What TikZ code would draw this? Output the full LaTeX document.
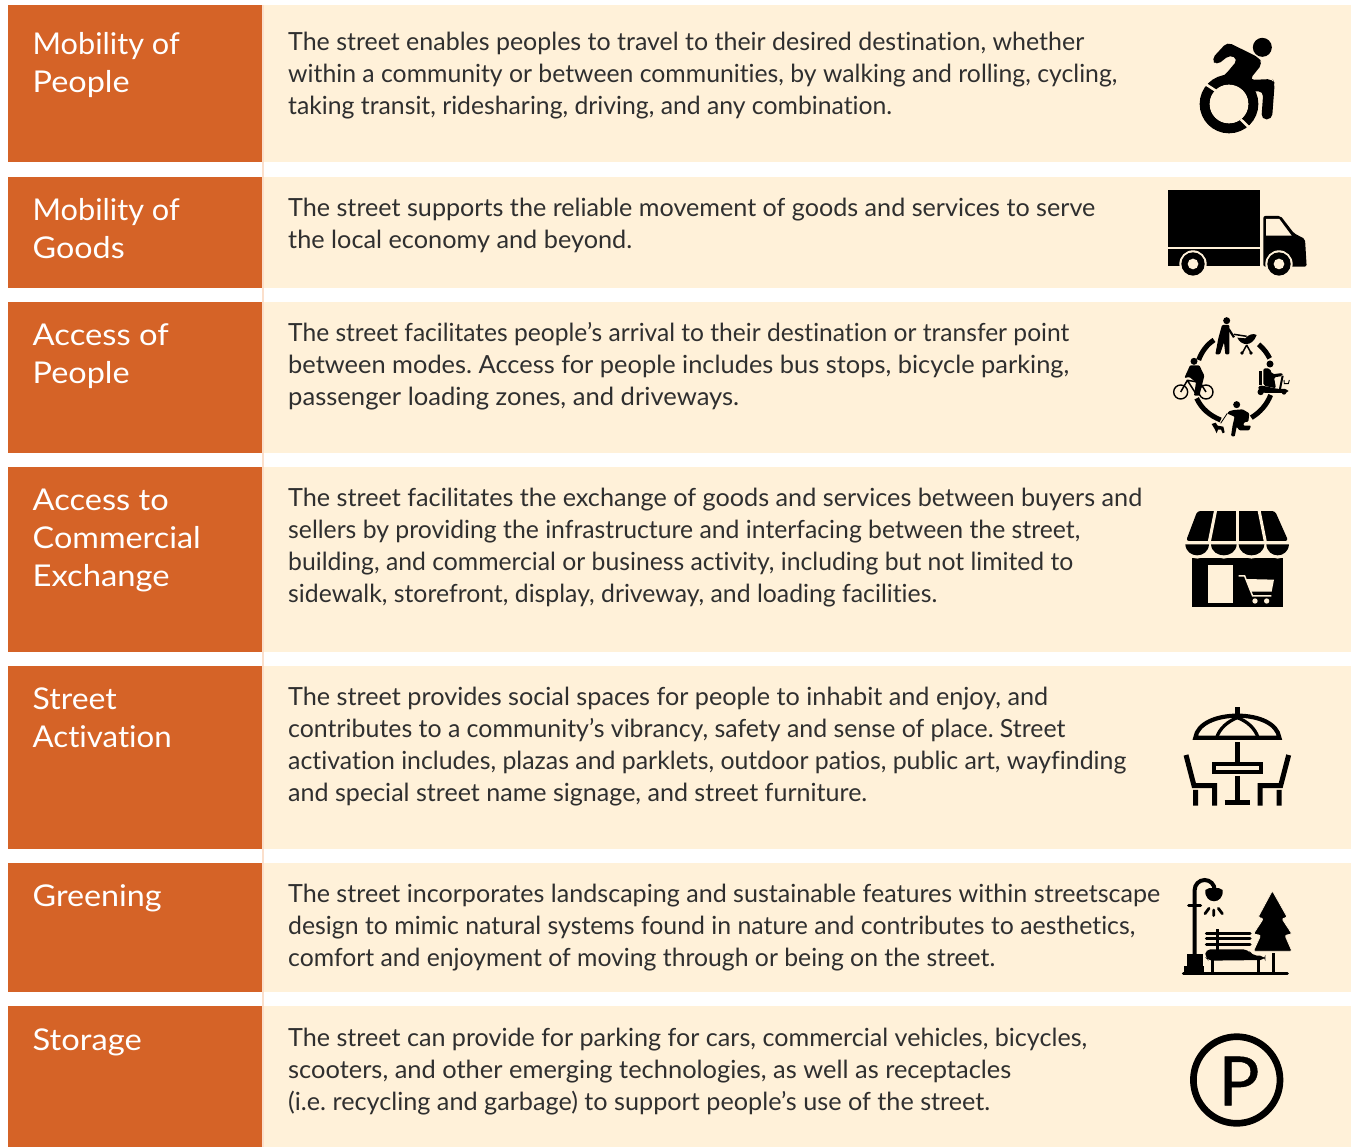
\documentclass[tikz,border=0pt]{standalone}
\usepackage{fontspec}
\usepackage{graphicx}
\setmainfont{Lato}[Ligatures=NoCommon]
\newfontfamily\pfont{Lato}[FakeBold=0.6]
\definecolor{orangebar}{HTML}{D56327}
\definecolor{creambg}{HTML}{FFF1D9}
\definecolor{paleedge}{HTML}{FBDFCB}
\definecolor{bodyink}{HTML}{2F2F2F}
\tikzset{
  headbox/.style={fill=orangebar,draw=none},
  bodybox/.style={fill=creambg,draw=none},
  edgebox/.style={fill=paleedge,draw=none},
  headtext/.style={font=\fontsize{30}{38}\selectfont\frenchspacing,text=white,align=left,inner sep=0pt,anchor=north west},
  bodytext/.style={font=\fontsize{25}{32}\selectfont\frenchspacing,text=bodyink,align=left,inner sep=0pt,anchor=north west},
  ink/.style={draw=black,line cap=butt},
  gapline/.style={draw=creambg},
}
\newcommand{\hs}{\rule{0pt}{24pt}}
\newcommand{\fitl}[2]{\resizebox{#1pt}{\height}{#2}}
\begin{document}
\begin{tikzpicture}[x=1pt,y=-1pt]
\useasboundingbox (0,0) rectangle (1351,1147);
\fill[white] (0,0) rectangle (1351,1147);
\path[edgebox] (262,5) rectangle (264,1147);
\foreach \a/\b in {5/162,177/288,302/453,467/652,666/849,863/992,1006/1147}{
  \path[headbox] (8,\a) rectangle (262,\b);
  \path[bodybox] (264,\a) rectangle (1351,\b);
}
% titles
\node[headtext] (t1) at (32.5,30) {\hs\fitl{147}{Mobility of}\\\fitl{97}{People}};
\node[headtext] (t2) at (32.5,196) {\hs\fitl{147}{Mobility of}\\\fitl{92}{Goods}};
\node[headtext] (t3) at (32.5,321) {\hs\fitl{136}{Access of}\\\fitl{97}{People}};
\node[headtext] (t4) at (32.5,486) {\hs\fitl{136}{Access to}\\\fitl{168}{Commercial}\\\fitl{137}{Exchange}};
\node[headtext] (t5) at (32.5,685) {\hs\fitl{84}{Street}\\\fitl{139}{Activation}};
\node[headtext] (t6) at (32.5,882) {\hs\fitl{129}{Greening}};
\node[headtext] (t7) at (32.5,1026) {\hs\fitl{109}{Storage}};
% bodies
\node[bodytext] (b1) at (288,26) {\hs\fitl{796}{The street enables peoples to travel to their desired destination, whether}\\\fitl{829}{within a community or between communities, by walking and rolling, cycling,}\\\fitl{604}{taking transit, ridesharing, driving, and any combination.}};
\node[bodytext] (b2) at (288,192) {\hs\fitl{807}{The street supports the reliable movement of goods and services to serve}\\\fitl{344}{the local economy and beyond.}};
\node[bodytext] (b3) at (288,317) {\hs\fitl{781}{The street facilitates people’s arrival to their destination or transfer point}\\\fitl{781}{between modes. Access for people includes bus stops, bicycle parking,}\\\fitl{451}{passenger loading zones, and driveways.}};
\node[bodytext] (b4) at (288,482) {\hs\fitl{854}{The street facilitates the exchange of goods and services between buyers and}\\\fitl{792}{sellers by providing the infrastructure and interfacing between the street,}\\\fitl{785}{building, and commercial or business activity, including but not limited to}\\\fitl{649}{sidewalk, storefront, display, driveway, and loading facilities.}};
\node[bodytext] (b5) at (288,681) {\hs\fitl{760}{The street provides social spaces for people to inhabit and enjoy, and}\\\fitl{777}{contributes to a community’s vibrancy, safety and sense of place. Street}\\\fitl{838}{activation includes, plazas and parklets, outdoor patios, public art, wayfinding}\\\fitl{579}{and special street name signage, and street furniture.}};
\node[bodytext] (b6) at (288,878) {\hs\fitl{872}{The street incorporates landscaping and sustainable features within streetscape}\\\fitl{847}{design to mimic natural systems found in nature and contributes to aesthetics,}\\\fitl{707}{comfort and enjoyment of moving through or being on the street.}};
\node[bodytext] (b7) at (288,1022) {\hs\fitl{799}{The street can provide for parking for cars, commercial vehicles, bicycles,}\\\fitl{723}{scooters, and other emerging technologies, as well as receptacles}\\\fitl{702}{(i.e. recycling and garbage) to support people’s use of the street.}};
% wheelchair
\begin{scope}[shift={(1150,20)},x=0.3333pt,y=-0.3333pt]
  \fill (337,82) circle[radius=28.5];
  \draw[ink,line width=10pt] (237,252) circle[radius=73];
  \fill[rounded corners=5pt] (184,118) -- (232,66) -- (325,112) -- (338,130) -- (298,180) -- (368,177) -- (374,190) -- (366,298) -- (334,298) -- (340,214) -- (290,214) -- (200,180) -- (225,165) -- (264,118) -- (240,104) -- (200,136) -- cycle;
  \fill[creambg] (237,252) circle[radius=58];
  \draw[gapline,line width=2.6pt] (163,190) -- (197,212);
  \draw[gapline,line width=2.6pt] (272,298) -- (300,325);
\end{scope}
% truck
\begin{scope}[shift={(1150,20)},x=0.3333pt,y=-0.3333pt]
  \fill (54,510) rectangle (331,682);
  \fill (54,686) rectangle (331,738);
  \fill[rounded corners=2pt] (340,588) -- (392,588) -- (432,640) -- (465,657) -- (470,740) -- (340,740) -- cycle;
  \fill[creambg] (348,597) -- (388,597) -- (425,647) -- (348,647) -- cycle;
  \foreach \cx in {129,387}{
    \fill[creambg] (\cx,732) circle[radius=41];
    \fill (\cx,732) circle[radius=35];
    \fill[creambg] (\cx,732) circle[radius=16];
  }
\end{scope}
% access ring
\begin{scope}[shift={(1150,305)},x=0.3333pt,y=-0.3333pt]
  \draw[ink,line width=5pt] (192,105) .. controls (172,118) and (156,138) .. (146,165);
  \draw[ink,line width=5pt] (326,118) .. controls (342,132) and (352,146) .. (359,160);
  \draw[ink,line width=5pt] (362,270) .. controls (350,300) and (330,322) .. (304,338);
  \draw[ink,line width=5pt] (140,280) .. controls (155,312) and (180,332) .. (212,345);
  % stroller person
  \fill (230,47) circle[radius=10.5];
  \fill[rounded corners=1pt] (216,60) -- (238,60) -- (238,148) -- (226,148) -- (222,112) -- (210,148) -- (196,148) -- (205,100) -- cycle;
  \draw[ink,line width=2.2pt] (236,72) -- (252,97);
  \fill (262,98) .. controls (272,122) and (306,128) .. (320,90) .. controls (310,84) and (296,88) .. (286,100) -- cycle;
  \draw[ink,line width=1.5pt] (252,88) -- (290,94);
  \draw[ink,line width=1.5pt] (290,120) -- (278,142) (290,120) -- (302,142);
  \fill (276,144) circle[radius=5.5] (303,144) circle[radius=5.5];
  % cyclist
  \fill (132,169) circle[radius=10.5];
  \fill[rounded corners=1pt] (120,181) -- (148,181) -- (163,212) -- (148,272) -- (132,272) -- (138,232) -- (118,216) -- (103,219) -- cycle;
  \draw[ink,line width=1.4pt] (92,261) circle[radius=21] (168,261) circle[radius=21];
  \draw[ink,line width=1.5pt] (92,261) -- (112,226) -- (150,232) -- (168,261) (112,226) -- (135,262) -- (150,232);
  % scooter
  \fill (360,177) circle[radius=10.5];
  \fill[rounded corners=2pt] (340,190) -- (360,190) -- (366,208) -- (398,204) -- (398,213) -- (372,217) -- (378,250) -- (340,242) -- cycle;
  \fill (328,198) rectangle (336,240);
  \fill[rounded corners=3pt] (326,240) -- (385,252) -- (414,252) -- (414,264) -- (340,264) -- (324,256) -- cycle;
  \draw[ink,line width=2pt] (398,212) -- (390,252);
  \draw[ink,line width=.9pt] (402,225) -- (403,236) -- (415,236) -- (418,225);
  \fill (332,261) circle[radius=9.5] (402,262) circle[radius=7];
  % runner
  \fill (260,299) circle[radius=10.5];
  \fill[rounded corners=1pt] (252,315) -- (278,313) -- (298,325) -- (295,350) -- (282,352) -- (280,362) -- (303,362) -- (298,376) -- (268,376) -- (260,365) -- (254,395) -- (243,393) -- (248,360) -- (254,335) -- (232,326) -- (236,319) -- cycle;
  \draw[ink,line width=.8pt] (232,325) -- (212,355);
  \fill (185,357) -- (197,353) -- (203,362) -- (220,365) -- (224,382) -- (218,385) -- (213,374) -- (204,374) -- (200,385) -- (194,372) -- cycle;
\end{scope}
% store
\begin{scope}[shift={(1160,495)},x=0.3333pt,y=-0.3333pt]
  \fill[rounded corners=3pt] (112,48) -- (345,48) -- (385,138) -- (78,138) -- cycle;
  \draw[gapline,line width=3pt] (167,45) -- (148,140);
  \draw[gapline,line width=3pt] (233,45) -- (233,140);
  \draw[gapline,line width=3pt] (297,45) -- (316,140);
  \fill (97,185) rectangle (368,335);
  \fill[creambg] (85,170) rectangle (380,190);
  \fill[creambg] (70,138) rectangle (392,150);
  \foreach \l/\r in {73/150,150/233,233/316,316/390}{
    \fill[creambg] (\l,148) .. controls (\l+2,205) and (\r-2,205) .. (\r,148) -- cycle;
    \fill (\l+3,148) .. controls (\l+6,192) and (\r-6,192) .. (\r-3,148) -- cycle;
  }
  \fill[creambg] (145,210) rectangle (220,325);
  \draw[draw=creambg,line width=1.5pt] (236,243) -- (254,243) -- (278,303) -- (334,303);
  \fill[creambg] (257,252) -- (342,254) -- (335,290) -- (271,290) -- cycle;
  \fill[creambg] (285,318) circle[radius=8] (320,318) circle[radius=8];
\end{scope}
% patio
\begin{scope}[shift={(1160,695)},x=0.3333pt,y=-0.3333pt]
  \draw[ink,line width=5pt] (232,37) -- (232,62);
  \draw[ink,line width=4.2pt] (106,128) .. controls (112,85) and (170,62) .. (232,62) .. controls (295,62) and (352,85) .. (358,128) -- cycle;
  \draw[ink,line width=3.3pt] (170,128) .. controls (178,100) and (205,78) .. (232,68) .. controls (260,78) and (286,100) .. (294,128);
  \draw[ink,line width=5pt] (232,142) -- (232,205) (232,243) -- (232,322);
  \draw[ink,line width=4pt] (162,207) rectangle (302,232);
  \draw[ink,line width=5pt] (194,323) -- (270,323);
  \draw[ink,line width=5pt] (78,180) -- (102,272) -- (164,272) -- (164,332) (107,285) -- (107,332);
  \draw[ink,line width=5pt] (386,180) -- (362,272) -- (300,272) -- (300,332) (357,285) -- (357,332);
\end{scope}
% greening
\begin{scope}[shift={(1160,870)},x=0.3333pt,y=-0.3333pt]
  \draw[ink,line width=4pt] (104,255) -- (104,60) arc[start angle=180,end angle=360,radius=30];
  \draw[ink,line width=3pt,line cap=round] (86,107) -- (122,107);
  \fill (136,60) -- (148,54) -- (176,54) -- (188,60) .. controls (192,105) and (132,105) .. (136,60) -- cycle;
  \draw[ink,line width=2.8pt,line cap=round] (147,115) -- (135,131) (161,120) -- (161,137) (175,115) -- (187,131);
  \fill (82,252) rectangle (128,288);
  \fill (72,288) rectangle (132,310);
  \draw[ink,line width=3pt,line cap=round] (70,310) -- (382,310);
  \draw[ink,line width=3pt,line cap=round] (139,189) -- (270,189) (139,205) -- (270,205) (139,222) -- (270,222);
  \draw[ink,line width=3pt] (172,178) -- (172,240);
  \fill[rounded corners=5pt] (136,238) -- (265,238) -- (275,256) -- (316,258) -- (316,270) -- (145,272) -- (136,262) -- cycle;
  \draw[ink,line width=3pt] (158,270) -- (158,310) (296,270) -- (296,310) (341,250) -- (341,310);
  \fill[rounded corners=2pt,draw=creambg,line width=.8pt] (337,62) -- (382,142) -- (366,146) -- (396,192) -- (375,196) -- (396,244) -- (280,244) -- (302,196) -- (280,192) -- (310,146) -- (294,142) -- cycle;
\end{scope}
% parking
\node[draw=black,line width=6.7pt,circle,minimum size=86.6pt,inner sep=0pt] (p) at (1236.7,1080) {};
\node[font=\pfont\fontsize{68}{68}\selectfont,inner sep=0pt] (pl) at (1239,1081) {P};
\end{tikzpicture}
\end{document}
